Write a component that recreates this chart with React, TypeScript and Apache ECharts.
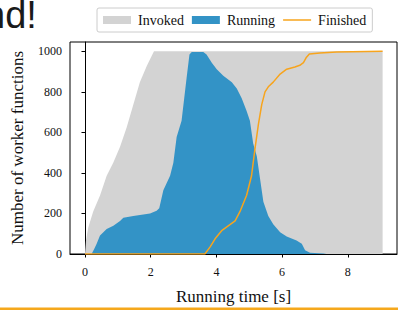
import React, { useEffect, useRef } from "react";
import * as echarts from "echarts";

const invokedX = [0, 0.03, 0.1, 0.25, 0.46, 0.66, 0.86, 1.07, 1.27, 1.47, 1.67, 1.88, 2.1, 9.06];
const invokedY = [0, 67, 131, 210, 290, 386, 450, 530, 625, 737, 848, 928, 1000, 1000];

const runningX = [0.2, 0.28, 0.355, 0.457, 0.66, 0.863, 1.066, 1.167, 1.47, 1.776, 1.98, 2.18, 2.26, 2.385, 2.59, 2.69, 2.79, 2.94, 3.09, 3.18, 3.25, 3.6, 3.7, 3.86, 4.01, 4.21, 4.47, 4.62, 4.77, 4.92, 5.02, 5.12, 5.23, 5.33, 5.43, 5.58, 5.73, 5.94, 6.14, 6.44, 6.6, 6.7, 6.85, 7.26, 7.35];
const runningY = [0, 25, 51, 91, 123, 139, 163, 179, 187, 195, 200, 214, 226, 314, 386, 450, 577, 657, 865, 984, 997, 997, 984, 944, 912, 880, 848, 817, 769, 705, 657, 545, 482, 370, 258, 187, 147, 107, 86, 67, 51, 19, 6, 3, 0];

const finishedX = [0, 3.65, 3.81, 3.96, 4.16, 4.36, 4.57, 4.72, 4.92, 5.07, 5.17, 5.28, 5.38, 5.48, 5.58, 5.73, 5.94, 6.14, 6.39, 6.54, 6.65, 6.73, 6.83, 7.15, 7.66, 9.06];
const finishedY = [0, 0, 35, 75, 115, 139, 163, 210, 290, 386, 514, 641, 737, 800, 825, 848, 888, 912, 923, 931, 944, 968, 987, 992, 997, 1000];

const xTicks = [0, 2, 4, 6, 8];
const yTicks = [0, 200, 400, 600, 800, 1000];
const seriesNames = ["Invoked", "Running", "Finished"];

const zip = (xs: number[], ys: number[]) => xs.map((x, i) => [x, ys[i]]);

const SERIF = "Liberation Serif";

export default function App() {
  const ref = useRef<HTMLDivElement>(null);
  useEffect(() => {
    if (!ref.current) return;
    const chart = echarts.init(ref.current, undefined, { renderer: "svg" });
    const labelStyle = {
      fontFamily: SERIF,
      fontSize: 12,
      color: "#111",
      formatter: (v: number) => String(v),
    };
    chart.setOption({
      animation: false,
      backgroundColor: "#fff",
      textStyle: { fontFamily: SERIF },
      graphic: [
        {
          type: "text",
          x: -16,
          y: -4,
          style: { text: "nd!", font: "38px 'Liberation Sans', sans-serif", fill: "#1a1a1a" },
        },
        {
          type: "rect",
          shape: { x: 0, y: 307.5, width: 398, height: 2.5 },
          style: { fill: "#f5a81c" },
        },
      ],
      legend: {
        left: 97,
        top: 8,
        padding: [5, 6, 5, 6],
        itemGap: 8,
        itemWidth: 28,
        itemHeight: 8,
        borderColor: "#cccccc",
        borderWidth: 1,
        borderRadius: 2,
        backgroundColor: "#fff",
        textStyle: { fontFamily: SERIF, fontSize: 14, color: "#111", padding: [0, 0, 0, 2] },
        data: [
          { name: seriesNames[0], icon: "rect" },
          { name: seriesNames[1], icon: "rect" },
          { name: seriesNames[2], icon: "path://M0,0 L28,0 L28,1.5 L0,1.5 Z" },
        ],
      },
      grid: {
        left: 70,
        top: 42,
        width: 327,
        height: 219,
        show: true,
        borderColor: "#000",
        borderWidth: 1,
        backgroundColor: "transparent",
      },
      xAxis: {
        type: "value",
        min: -0.4566,
        max: 9.498,
        name: "Running time [s]",
        nameLocation: "middle",
        nameGap: 34,
        nameTextStyle: { fontFamily: SERIF, fontSize: 17, color: "#111" },
        axisLine: { show: true, lineStyle: { color: "#000" } },
        axisTick: { show: true, length: 3.5, customValues: xTicks, lineStyle: { color: "#000" } },
        axisLabel: { ...labelStyle, customValues: xTicks, margin: 12 },
        splitLine: { show: false },
      },
      yAxis: {
        type: "value",
        min: 0,
        max: 1046,
        name: "Number of worker functions",
        nameLocation: "middle",
        nameGap: 44,
        nameTextStyle: { fontFamily: SERIF, fontSize: 17, color: "#111" },
        axisLine: { show: true, lineStyle: { color: "#000" } },
        axisTick: { show: true, length: 3.5, customValues: yTicks, lineStyle: { color: "#000" } },
        axisLabel: { ...labelStyle, customValues: yTicks, margin: 8 },
        splitLine: { show: false },
      },
      series: [
        {
          name: seriesNames[0],
          type: "line",
          data: zip(invokedX, invokedY),
          symbol: "none",
          color: "#d3d3d3",
          lineStyle: { width: 0 },
          areaStyle: { color: "#d3d3d3", opacity: 1 },
          z: 1,
        },
        {
          name: seriesNames[1],
          type: "line",
          data: zip(runningX, runningY),
          symbol: "none",
          color: "#3393c6",
          lineStyle: { width: 0 },
          areaStyle: { color: "#3393c6", opacity: 1 },
          z: 2,
        },
        {
          name: seriesNames[2],
          type: "line",
          data: zip(finishedX, finishedY),
          symbol: "none",
          color: "#f7a41d",
          lineStyle: { width: 1.5, color: "#f7a41d" },
          z: 3,
        },
      ],
    });
    return () => chart.dispose();
  }, []);
  return <div ref={ref} style={{ width: 398, height: 310, position: "fixed", left: 0, top: 0 }} />;
}
